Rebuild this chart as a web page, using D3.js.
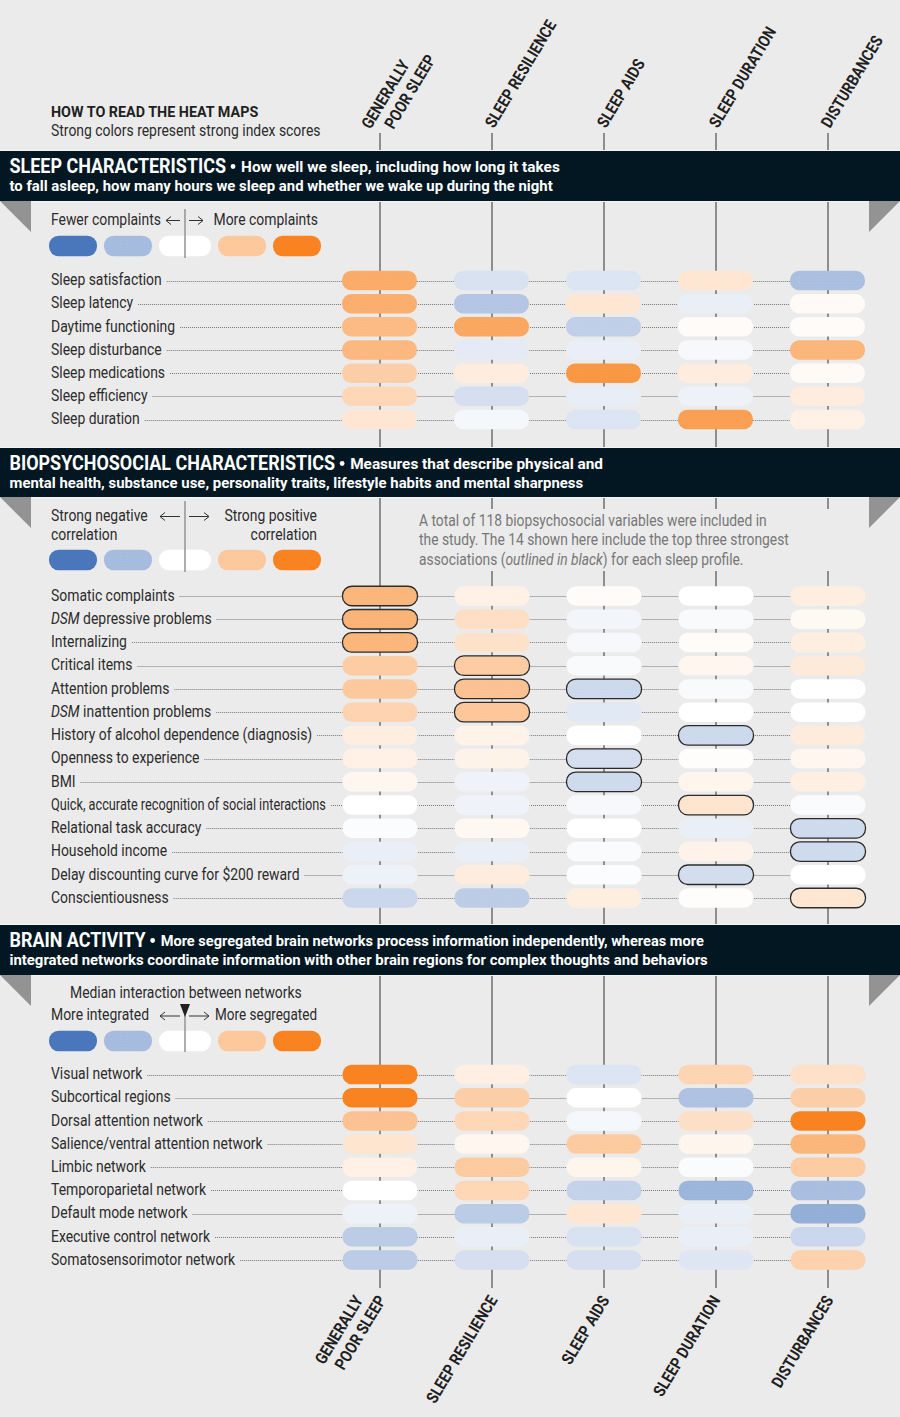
<!DOCTYPE html>
<html><head><meta charset="utf-8">
<script src="https://cdn.jsdelivr.net/npm/d3@7"></script>
<style>
html,body{margin:0;padding:0;background:#ebebeb}
svg{display:block}
text{font-family:"Roboto",sans-serif;fill:#2b2b2b}
</style></head><body>
<svg id="c" width="900" height="1417"></svg>
<script>
const profiles = ["GENERALLY|POOR SLEEP","SLEEP RESILIENCE","SLEEP AIDS","SLEEP DURATION","DISTURBANCES"];
const legendSteps = [-1,-0.5,0,0.45,1];

const sleepLabels = ["Sleep satisfaction","Sleep latency","Daytime functioning","Sleep disturbance","Sleep medications","Sleep efficiency","Sleep duration"];
const sleepValues = [
 [.68,-.22,-.2,.2,-.47],
 [.66,-.42,.2,-.12,.04],
 [.56,.72,-.35,.03,.03],
 [.58,-.15,-.12,-.05,.6],
 [.4,.15,.85,.15,.04],
 [.33,-.24,-.13,-.1,.15],
 [.2,-.06,-.2,.78,.12]];

const bioLabels = ["Somatic complaints","*DSM* depressive problems","Internalizing","Critical items","Attention problems","*DSM* inattention problems","History of alcohol dependence (diagnosis)","Openness to experience","BMI","Quick, accurate recognition of social interactions","Relational task accuracy","Household income","Delay discounting curve for $200 reward","Conscientiousness"];
const bioValues = [
 [.6,.12,.03,0,.14],
 [.62,.27,-.07,-.04,.05],
 [.6,.24,-.05,.03,.14],
 [.42,.42,-.04,.07,.17],
 [.44,.5,-.28,-.04,0],
 [.36,.46,-.17,0,0],
 [.14,.1,0,-.28,.16],
 [.12,.1,-.24,.02,.07],
 [.07,-.09,-.27,.08,.13],
 [0,-.09,-.05,.22,-.03],
 [-.02,.06,0,-.12,-.27],
 [-.12,-.12,-.03,.1,-.27],
 [-.1,.15,-.02,-.25,0],
 [-.3,-.37,.14,.02,.2]];
const bioOutlined = [
 [1,0,0,0,0],[1,0,0,0,0],[1,0,0,0,0],[0,1,0,0,0],[0,1,1,0,0],[0,1,0,0,0],[0,0,0,1,0],
 [0,0,1,0,0],[0,0,1,0,0],[0,0,0,1,0],[0,0,0,0,1],[0,0,0,0,1],[0,0,0,1,0],[0,0,0,0,1]];

const brainLabels = ["Visual network","Subcortical regions","Dorsal attention network","Salience/ventral attention network","Limbic network","Temporoparietal network","Default mode network","Executive control network","Somatosensorimotor network"];
const brainValues = [
 [1,.13,-.2,.35,.25],
 [1,.4,0,-.45,.4],
 [.5,.33,-.06,.26,1],
 [.22,.07,.43,.08,.6],
 [.12,.43,.08,-.03,.42],
 [0,.33,-.33,-.55,-.48],
 [-.1,-.38,.2,-.12,-.6],
 [-.38,-.12,-.22,-.12,-.3],
 [-.38,-.24,-.24,-.18,.37]];

const svg = d3.select("#c");
const W=900;
const color = d3.scaleLinear().domain([-1,0,1]).range(["#4a76bc","#ffffff","#f88320"]);
const x = d3.scalePoint().domain(d3.range(5)).range([380,828]);
const FS=16, SX=.87, LABEL_MAX=275;

svg.append("rect").attr("width",W).attr("height",1417).attr("fill","#ebebeb");
const defs = svg.append("defs");
const pat = defs.append("pattern").attr("id","dots").attr("width",3).attr("height",3).attr("patternUnits","userSpaceOnUse");
pat.append("circle").attr("cx",1).attr("cy",1).attr("r",.6).attr("fill","#fff").attr("opacity",.12);

// text condensed horizontally: the installed faces are wider than the reference's
function txt(g,xp,y,s,o={}){
  let sx=o.sx||SX;
  const t=g.append("text").attr("transform",`translate(${xp},${y}) scale(${sx},1)`)
    .attr("font-size",o.size||FS).attr("font-weight",o.weight||400)
    .attr("text-anchor",o.anchor||"start");
  if(o.fill) t.style("fill",o.fill);
  s.split("*").forEach((p,i)=>{ if(p) t.append("tspan").attr("font-style",i%2?"italic":"normal").text(p); });
  const raw=t.node().getComputedTextLength();
  if(o.max && raw*sx>o.max){ sx=o.max/raw; t.attr("transform",`translate(${xp},${y}) scale(${sx},1)`); }
  t.width=()=>raw*sx;
  return t;
}

// vertical profile lines
const lineG = svg.append("g");
x.domain().forEach(i=>{
  const segs = i===0 ? [[133,1288]] : [[133,509],[571,1288]];
  segs.forEach(s=>lineG.append("line").attr("x1",x(i)).attr("x2",x(i)).attr("y1",s[0]).attr("y2",s[1]).attr("stroke","#666").attr("stroke-width",1.4));
});

// rotated column labels
const ang=-59;
function colLabel(i,px,py,anchor){
  const parts=profiles[i].split("|");
  parts.forEach((p,k)=>{
    const off = parts.length>1 ? (k===0?-11.5:11.5) : 0;
    const g=svg.append("g").attr("transform",`translate(${px+off},${py}) rotate(${ang})`);
    txt(g,0,0,p,{size:16.5,weight:700,anchor,fill:"#1f1f1f",sx:.86});
  });
}
x.domain().forEach(i=>colLabel(i,x(i)+2,i===0?130:129,"start"));
[[375,1300],[498,1300],[610,1300],[721,1300],[834,1300]].forEach((e,i)=>colLabel(i,e[0],e[1],"end"));

txt(svg,51,117,"HOW TO READ THE HEAT MAPS",{weight:700,size:15.5,fill:"#1f1f1f",sx:.925});
txt(svg,51,136,"Strong colors represent strong index scores");

function band(y0,y1,title,l1,l2,sx1){
  svg.append("rect").attr("x",0).attr("width",W).attr("y",y0-1).attr("height",y1-y0+2).attr("fill","#f4f4f4");
  svg.append("rect").attr("x",0).attr("width",W).attr("y",y0).attr("height",y1-y0).attr("fill","#021722");
  const t=txt(svg,9.5,y0+22,title,{size:21,weight:700,fill:"#fff",sx:.855});
  const tx=9.5+t.width();
  svg.append("circle").attr("cx",tx+7).attr("cy",y0+15.5).attr("r",2.4).attr("fill","#fff");
  txt(svg,tx+15,y0+21,l1,{size:15.4,weight:700,fill:"#fff",sx:sx1});
  txt(svg,9.5,y0+39.5,l2,{size:15.4,weight:700,fill:"#fff",sx:.968});
  svg.append("path").attr("d",d3.line()([[0,y1],[31,y1],[31,y1+31]])+"Z").attr("fill","#939393");
  svg.append("path").attr("d",d3.line()([[869,y1],[900,y1],[869,y1+31]])+"Z").attr("fill","#939393");
}
band(151,201,"SLEEP CHARACTERISTICS","How well we sleep, including how long it takes","to fall asleep, how many hours we sleep and whether we wake up during the night",.999);
band(448,497,"BIOPSYCHOSOCIAL CHARACTERISTICS","Measures that describe physical and","mental health, substance use, personality traits, lifestyle habits and mental sharpness",.999);
band(925,975,"BRAIN ACTIVITY","More segregated brain networks process information independently, whereas more","integrated networks coordinate information with other brain regions for complex thoughts and behaviors",.947);

function pill(g,cx,cy,w,h,v,outlined){
  const r=g.append("rect").attr("x",cx-w/2).attr("y",cy-h/2).attr("width",w).attr("height",h).attr("rx",h/2-.5)
    .attr("fill",color(v));
  if(outlined) r.attr("stroke","#2a2a2a").attr("stroke-width",1.3);
  if(Math.abs(v)>.03 && Math.abs(v)<.9)
    g.append("rect").attr("x",cx-w/2).attr("y",cy-h/2).attr("width",w).attr("height",h).attr("rx",h/2-.5).attr("fill","url(#dots)");
}
function legend(top,barTop,barBot){
  const g=svg.append("g");
  const cx=[73,128,185,242,297], w=[48,48,52,48,48];
  legendSteps.forEach((v,i)=>pill(g,cx[i],top+10,w[i],20.5,v));
  g.append("line").attr("x1",185).attr("x2",185).attr("y1",barTop).attr("y2",barBot).attr("stroke","#999").attr("stroke-width",1.6);
}
function arrows(y,x1,x2,x3,x4){
  const a=svg.append("g").attr("fill","none").attr("stroke","#333").attr("stroke-width",1);
  a.append("path").attr("d",`M${x2},${y}H${x1}m5,-4l-5,4l5,4`);
  a.append("path").attr("d",`M${x3},${y}H${x4}m-5,-4l5,4l-5,4`);
}
legend(236,209,258); arrows(220.5,166,180,189,203);
txt(svg,51,225,"Fewer complaints"); txt(svg,318,225,"More complaints",{anchor:"end"});

legend(550,501,572); arrows(516.5,160,180,189,209);
txt(svg,51,521,"Strong negative"); txt(svg,51,540,"correlation");
txt(svg,317,521,"Strong positive",{anchor:"end"}); txt(svg,317,540,"correlation",{anchor:"end"});

legend(1031,1005,1052); arrows(1016,160,180,189,209);
txt(svg,70,998,"Median interaction between networks");
txt(svg,51,1020,"More integrated"); txt(svg,317,1020,"More segregated",{anchor:"end",max:102});
svg.append("path").attr("d",d3.line()([[180,1004],[190,1004],[185,1017]])+"Z").attr("fill","#231f20");

["A total of 118 biopsychosocial variables were included in","the study. The 14 shown here include the top three strongest","associations (*outlined in black*) for each sleep profile."]
 .forEach((s,i)=>txt(svg,419,526+i*19.3,s,{fill:"#777",sx:.865}));

function section(labels,vals,top,bottom,outl,dx){
  const y=d3.scalePoint().domain(d3.range(labels.length)).range([top,bottom]);
  const g=svg.append("g");
  labels.forEach((lab,r)=>{
    const t=txt(g,51,y(r)+4.8,lab,{max:LABEL_MAX});
    const end=51+t.width();
    const ly=Math.round(y(r))+.5;
    g.append("line").attr("x1",end+5).attr("x2",x(4)-30).attr("y1",ly).attr("y2",ly)
      .attr("stroke","#777").attr("stroke-width",1).attr("stroke-dasharray","1 1");
  });
  vals.forEach((row,r)=>row.forEach((v,c)=>pill(g,x(c)-.5+dx,y(r),75,19.5,v,outl&&outl[r][c])));
}
section(sleepLabels,sleepValues,280.5,419.5,null,0);
section(bioLabels,bioValues,596,898,bioOutlined,.5);
section(brainLabels,brainValues,1074.5,1260,null,.5);
</script>
</body></html>
